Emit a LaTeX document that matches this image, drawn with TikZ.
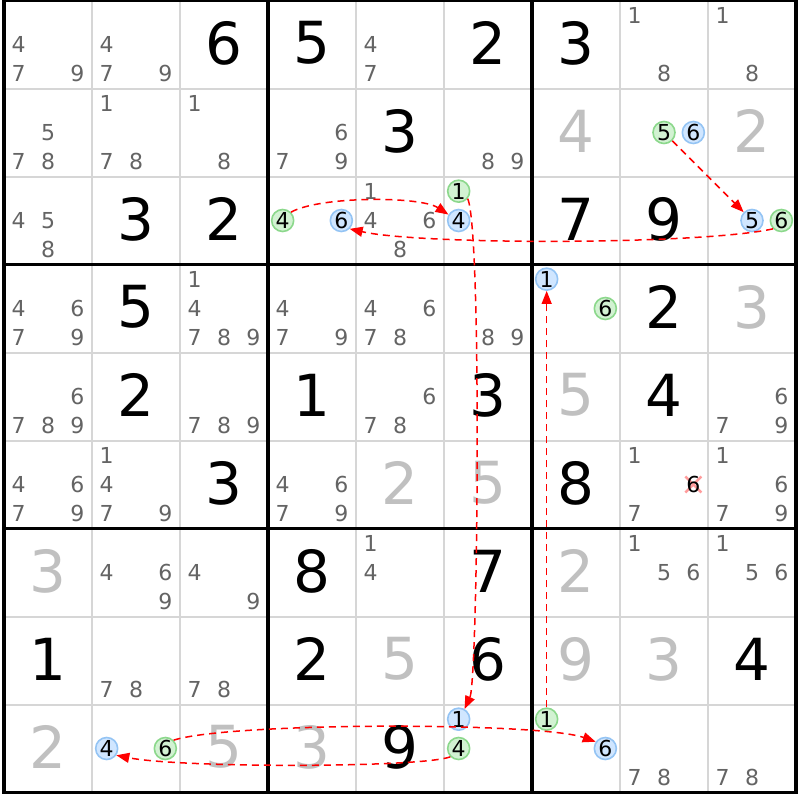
\documentclass[tikz,border=0pt]{standalone}
\usepackage{fontspec}
\setmainfont{DejaVu Sans}
\usetikzlibrary{arrows.meta}
\definecolor{candgray}{HTML}{646464}
\definecolor{solvedgray}{HTML}{C0C0C0}
\definecolor{thingray}{HTML}{D6D6D6}
\definecolor{grfill}{HTML}{D2F2D2}
\definecolor{grline}{HTML}{8CD88C}
\definecolor{blfill}{HTML}{D0E6FF}
\definecolor{blline}{HTML}{94C4F4}
\definecolor{linkred}{HTML}{FF0000}
\definecolor{xpink}{HTML}{FF9C9C}
\newcommand\setcandpos[3]{%
  \pgfmathsetmacro\px{4+88*(#2-1)+88*(2*mod(#3-1,3)+1)/6}%
  \pgfmathsetmacro\py{0.5+88*(#1-1)+88*(2*floor((#3-1)/3)+1)/6}}
\newcommand\candnode[3]{\setcandpos{#1}{#2}{#3}\node[candtxt] (k#1#2#3) at (\px,\py) {#3};}
\newcommand\hlnode[4]{\setcandpos{#1}{#2}{#3}\node[#4] (h#1#2#3) at (\px,\py) {#3};}
\newcommand\bignode[4]{\pgfmathsetmacro\px{4+88*(#2-0.5)}\pgfmathsetmacro\py{88*(#1-0.5)-1}\node[#4] (g#1#2) at (\px,\py) {#3};}
\tikzset{
  candtxt/.style={text=candgray, font=\fontsize{22}{22}\selectfont, inner sep=0pt},
  giventxt/.style={text=black, font=\fontsize{58}{58}\selectfont, inner sep=0pt},
  solvedtxt/.style={giventxt, text=solvedgray},
  hl/.style={circle, line width=1.6pt, minimum size=22pt, inner sep=0pt, text=black, font=\fontsize{22}{22}\selectfont},
  hlgreen/.style={hl, draw=grline, fill=grfill},
  hlblue/.style={hl, draw=blline, fill=blfill},
  thinline/.style={draw=thingray, line width=2pt},
  thickline/.style={draw=black, line width=3.5pt},
  link/.style={draw=linkred, line width=1.5pt, dash pattern=on 7pt off 5pt, -{Triangle[length=13pt,width=10pt]}},
  xmark/.style={draw=xpink, line width=2.5pt}
}
\begin{document}
\begin{tikzpicture}[x=1pt,y=-1pt]
\useasboundingbox (0,0) rectangle (800,800);
\fill[white] (0,0) rectangle (800,800);
% grid
\foreach \i in {1,2,4,5,7,8} {
  \draw[thinline] ({4+88*\i},0.5) -- ({4+88*\i},792.5);
  \draw[thinline] (4,{0.5+88*\i}) -- (796,{0.5+88*\i});
}
\foreach \i in {0,3,6,9} {
  \draw[thickline] ({4+88*\i},-1.25) -- ({4+88*\i},794.25);
  \draw[thickline] (2.25,{0.5+88*\i}) -- (797.75,{0.5+88*\i});
}
% candidates
\foreach \r/\c/\d in {1/1/4,1/1/7,1/1/9, 1/2/4,1/2/7,1/2/9, 1/5/4,1/5/7, 1/8/1,1/8/8, 1/9/1,1/9/8,
  2/1/5,2/1/7,2/1/8, 2/2/1,2/2/7,2/2/8, 2/3/1,2/3/8, 2/4/6,2/4/7,2/4/9, 2/6/8,2/6/9,
  3/1/4,3/1/5,3/1/8, 3/5/1,3/5/4,3/5/6,3/5/8,
  4/1/4,4/1/6,4/1/7,4/1/9, 4/3/1,4/3/4,4/3/7,4/3/8,4/3/9, 4/4/4,4/4/7,4/4/9, 4/5/4,4/5/6,4/5/7,4/5/8, 4/6/8,4/6/9,
  5/1/6,5/1/7,5/1/8,5/1/9, 5/3/7,5/3/8,5/3/9, 5/5/6,5/5/7,5/5/8, 5/9/6,5/9/7,5/9/9,
  6/1/4,6/1/6,6/1/7,6/1/9, 6/2/1,6/2/4,6/2/7,6/2/9, 6/4/4,6/4/6,6/4/7,6/4/9, 6/8/1,6/8/7, 6/9/1,6/9/6,6/9/7,6/9/9,
  7/2/4,7/2/6,7/2/9, 7/3/4,7/3/9, 7/5/1,7/5/4, 7/8/1,7/8/5,7/8/6, 7/9/1,7/9/5,7/9/6,
  8/2/7,8/2/8, 8/3/7,8/3/8,
  9/8/7,9/8/8, 9/9/7,9/9/8} {\candnode{\r}{\c}{\d}}
% eliminated candidate
\setcandpos{6}{8}{6}
\draw[xmark] (\px-8,\py-8) -- (\px+8,\py+8);
\draw[xmark] (\px-8,\py+8) -- (\px+8,\py-8);
\node[candtxt, text=black] (x686) at (\px,\py) {6};
% givens
\foreach \r/\c/\d in {1/3/6,1/4/5,1/6/2,1/7/3, 2/5/3, 3/2/3,3/3/2,3/7/7,3/8/9, 4/2/5,4/8/2,
  5/2/2,5/4/1,5/6/3,5/8/4, 6/3/3,6/7/8, 7/4/8,7/6/7, 8/1/1,8/4/2,8/6/6,8/9/4, 9/5/9} {\bignode{\r}{\c}{\d}{giventxt}}
\foreach \r/\c/\d in {2/7/4,2/9/2, 4/9/3, 5/7/5, 6/5/2,6/6/5, 7/1/3,7/7/2, 8/5/5,8/7/9,8/8/3, 9/1/2,9/3/5,9/4/3} {\bignode{\r}{\c}{\d}{solvedtxt}}
% highlighted candidates
\foreach \r/\c/\d in {2/8/5, 3/4/4, 3/6/1, 3/9/6, 4/7/6, 9/2/6, 9/6/4, 9/7/1} {\hlnode{\r}{\c}{\d}{hlgreen}}
\foreach \r/\c/\d in {2/8/6, 3/4/6, 3/6/4, 3/9/5, 4/7/1, 9/2/4, 9/6/1, 9/7/6} {\hlnode{\r}{\c}{\d}{hlblue}}
% links
\draw[link] (h285) -- (h395);
\draw[link] (h396.south west) .. controls (700,245) and (420,245) .. (h346.south east);
\draw[link] (h344.north east) .. controls (320,196) and (420,196) .. (h364.150);
\draw[link] (h361.-40) .. controls (482,230) and (478,680) .. (h961.60);
\draw[link] (h964.south west) .. controls (420,768) and (180,768) .. (h924.-35);
\draw[link] (h926.north east) .. controls (230,722) and (540,722) .. (h976.145);
\draw[link] (h971) -- (h471);
\end{tikzpicture}
\end{document}
